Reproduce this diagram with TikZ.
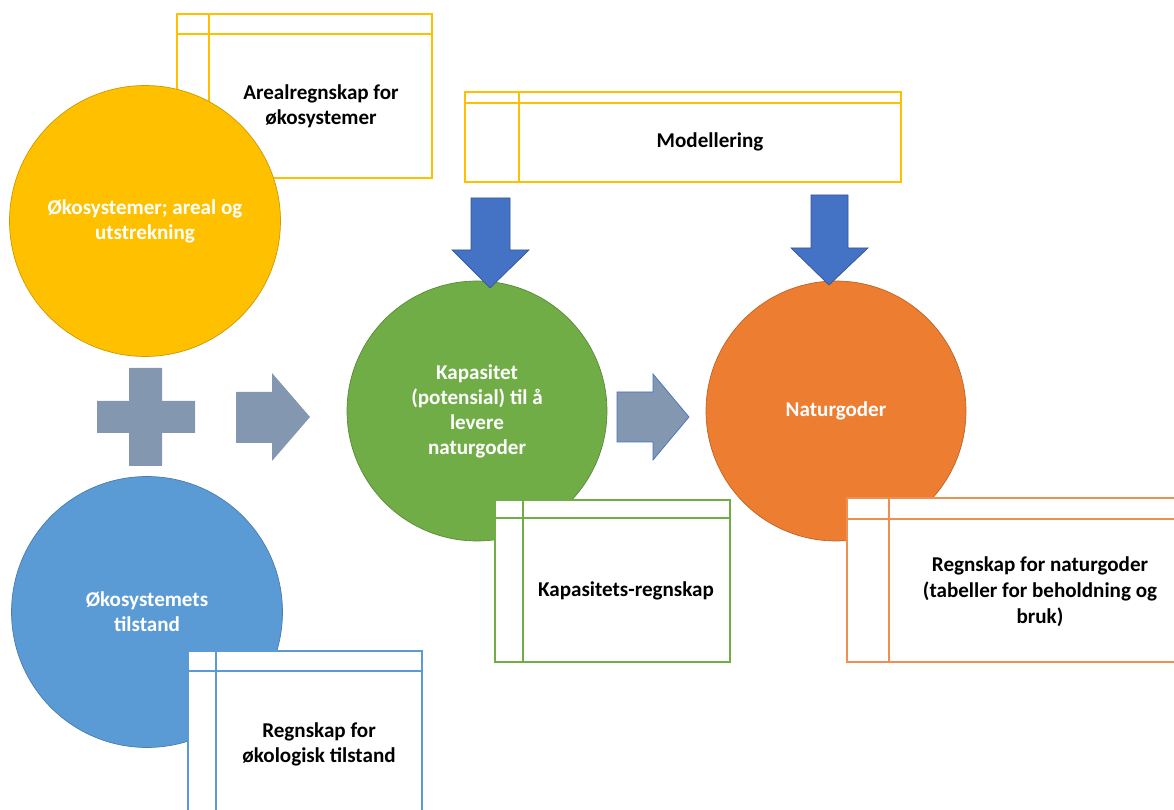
\documentclass[tikz,border=0pt]{standalone}
\usepackage{fontspec}
\setmainfont{Carlito}
\usetikzlibrary{positioning}
\definecolor{sunyellow}{HTML}{FFC000}
\definecolor{skyblue}{HTML}{5B9BD5}
\definecolor{leafgreen}{HTML}{70AD47}
\definecolor{rustorange}{HTML}{ED7D31}
\definecolor{royalblue}{HTML}{4472C4}
\definecolor{slategray}{HTML}{8497B0}

\begin{document}
\begin{tikzpicture}[x=0.02cm,y=-0.02cm,
    font=\fontsize{12}{14.2}\selectfont\bfseries,
    blob/.style={circle,draw=#1!80!black,fill=#1,text=white,align=center,inner sep=0pt},
    ledger/.style={draw=#1,line width=0.85pt,fill=white},
    rule/.style={draw=#1,line width=0.85pt},
    boxtext/.style={align=center,text=black}]
    \useasboundingbox (0,0) rectangle (1174,810);

    \draw[ledger=sunyellow](177,14) rectangle (432,178);
    \draw[rule=sunyellow](209,14)--(209,178) (177,34)--(432,34);
    \node[boxtext] (arealtxt) at (321,106) {Arealregnskap for\\økosystemer};
    \node[blob=sunyellow, minimum size=5.42cm] (areal) at (145,221) {Økosystemer; areal og\\utstrekning};

    \node[blob=skyblue, minimum size=5.42cm] (tilstand) at (147,612) {Økosystemets\\tilstand};
    \draw[ledger=skyblue](188,651) rectangle (422,830);
    \draw[rule=skyblue](216,651)--(216,830) (188,671)--(422,671);
    \node[boxtext] (tilstandtxt) at (319,744) {Regnskap for\\økologisk tilstand};

    \node[blob=leafgreen, minimum size=5.2cm] (kapasitet) at (477,411) {Kapasitet\\(potensial) til å\\levere\\naturgoder};
    \draw[ledger=leafgreen](495,500) rectangle (730,662);
    \draw[rule=leafgreen](523,500)--(523,662) (495,518)--(730,518);
    \node[boxtext] (kapasitettxt) at (626,591) {Kapasitets-regnskap};

    \node[blob=rustorange, minimum size=5.2cm] (goder) at (836,411) {Naturgoder};
    \draw[ledger=rustorange!85!white](847,498) rectangle (1190,662);
    \draw[rule=rustorange!85!white](889,498)--(889,662) (847,519)--(1190,519);
    \node[boxtext, font=\fontsize{12}{14.8}\selectfont\bfseries] (godertxt) at (1040,592) {Regnskap for naturgoder\\(tabeller for beholdning og\\bruk)};

    \draw[ledger=sunyellow](465,92) rectangle (901,182);
    \draw[rule=sunyellow](519,92)--(519,182) (465,103)--(901,103);
    \node[boxtext] (modelltxt) at (710,142) {Modellering};

    \filldraw[royalblue, draw=royalblue!75!black](471,198)--(510,198)--(510,250)--(529,250)--(490,288)--(452,250)--(471,250)--cycle;
    \filldraw[royalblue, draw=royalblue!75!black](811,195)--(848,195)--(848,248)--(868,248)--(829,285)--(791,248)--(811,248)--cycle;

    \fill[slategray](129,368)--(162,368)--(162,401)--(195,401)--(195,433)--(162,433)--(162,466)--(129,466)--(129,433)--(97,433)--(97,401)--(129,401)--cycle;
    \fill[slategray](236,392)--(272,392)--(272,373)--(310,417)--(272,461)--(272,443)--(236,443)--cycle;
    \filldraw[fill=slategray, draw=royalblue](617,392)--(653,392)--(653,374)--(689,417)--(653,460)--(653,442)--(617,442)--cycle;

\end{tikzpicture}
\end{document}
